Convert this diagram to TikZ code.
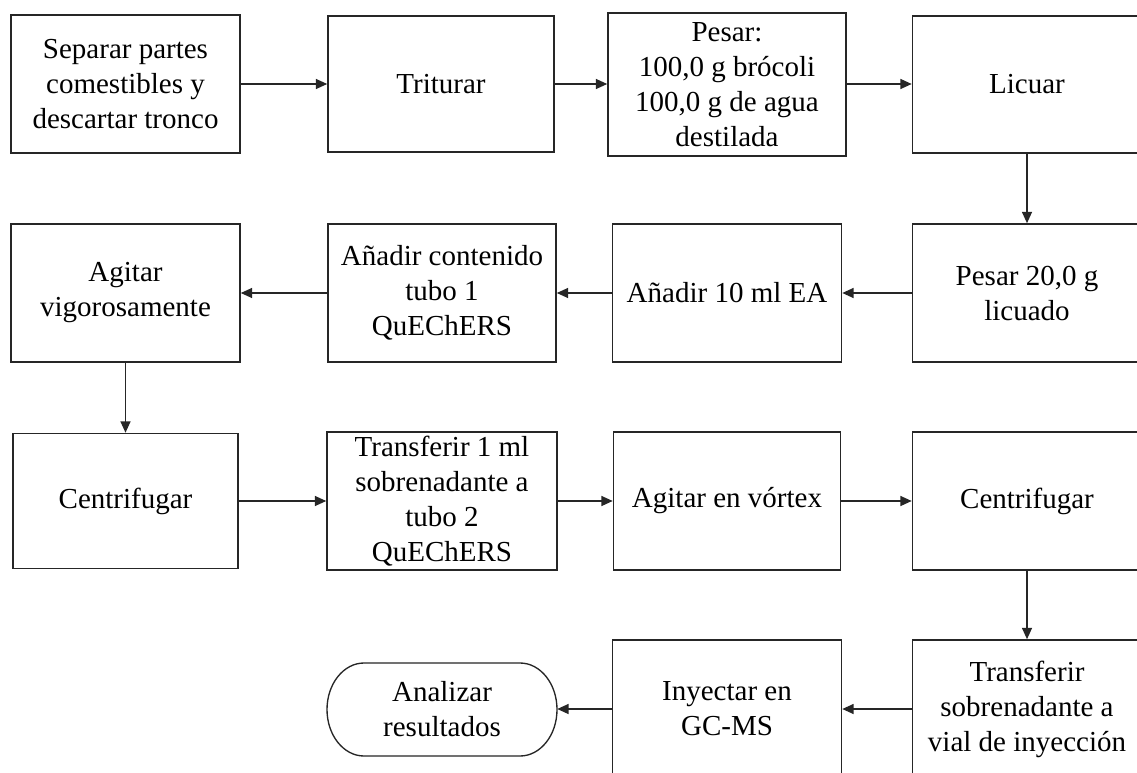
\documentclass[tikz,border=0pt]{standalone}
\usepackage{fontspec}
\setmainfont{Liberation Serif}
\usetikzlibrary{arrows.meta}
\tikzset{
  box/.style={draw=black!85, line width=1.2pt, fill=white, align=center, inner sep=0pt,
    minimum width=171.75pt, minimum height=103.5pt,
    font=\fontsize{21.75pt}{26.25pt}\selectfont},
  flow/.style={draw=black!85, line width=1pt, -{Triangle[length=8.5pt,width=7.5pt]}},
  ovalbox/.style={draw=none, align=center, inner sep=0pt,
    minimum width=172.5pt, minimum height=69.75pt,
    font=\fontsize{21.75pt}{26.25pt}\selectfont},
  ovalline/.style={draw=black!85, line width=1pt}
}
\begin{document}
\begin{tikzpicture}[x=0.75pt,y=-0.75pt]
\useasboundingbox (0,0) rectangle (1137,773);
\fill[white] (0,0) rectangle (1137,773);
\clip (0,0) rectangle (1137,773);
% row 1
\node[box] (b1) at (125.5,84) {Separar partes\\comestibles y\\descartar tronco};
\node[box, minimum width=169.5pt, minimum height=102pt] (b2) at (441,84) {Triturar};
\node[box, minimum width=178.5pt, minimum height=107.25pt] (b3) at (727,84.5) {Pesar:\\100,0 g brócoli\\100,0 g de agua\\destilada};
\node[box, minimum height=102.75pt] (b4) at (1027,84.5) {Licuar};
% row 2
\node[box] (b5) at (1027,293) {Pesar 20,0 g\\licuado};
\node[box] (b6) at (727,293) {Añadir 10 ml EA};
\node[box, minimum width=171pt] (b7) at (442,293) {Añadir contenido\\tubo 1\\QuEChERS};
\node[box] (b8) at (125.5,293) {Agitar\\vigorosamente};
% row 3
\node[box, minimum width=168.75pt, minimum height=101.25pt] (b9) at (125.5,501) {Centrifugar};
\node[box, minimum width=172.5pt] (b10) at (442,501) {Transferir 1 ml\\sobrenadante a\\tubo 2\\QuEChERS};
\node[box, minimum width=170.25pt] (b11) at (727,501) {Agitar en vórtex};
\node[box] (b12) at (1027,501) {Centrifugar};
% row 4
\node[box] (b13) at (1027,709) {Transferir\\sobrenadante a\\vial de inyección};
\node[box] (b14) at (727,709) {Inyectar en\\GC-MS};
\node[ovalbox] (b15) at (442,709.5) {Analizar\\resultados};
\draw[ovalline] (364,663) -- (520,663)
  .. controls (540.4,663) and (557,683.8) .. (557,709.5)
  .. controls (557,735.2) and (540.4,756) .. (520,756)
  -- (364,756)
  .. controls (343.6,756) and (327,735.2) .. (327,709.5)
  .. controls (327,683.8) and (343.6,663) .. (364,663) -- cycle;
% connectors
\draw[flow] (b1.east) -- (b1.east -| b2.west);
\draw[flow] (b2.east) -- (b2.east -| b3.west);
\draw[flow] (b3.east |- b2.east) -- (b2.east -| b4.west);
\draw[flow] (b4.south) -- (b5.north);
\draw[flow] (b5.west) -- (b6.east);
\draw[flow] (b6.west) -- (b7.east);
\draw[flow] (b7.west) -- (b8.east);
\draw[flow] (b8.south) -- (b8.south |- b9.north);
\draw[flow] (b9.east) -- (b9.east -| b10.west);
\draw[flow] (b10.east) -- (b10.east -| b11.west);
\draw[flow] (b11.east) -- (b11.east -| b12.west);
\draw[flow] (b12.south) -- (b13.north);
\draw[flow] (b13.west) -- (b14.east);
\draw[flow] (b14.west) -- (b14.west -| b15.east);
\end{tikzpicture}
\end{document}
